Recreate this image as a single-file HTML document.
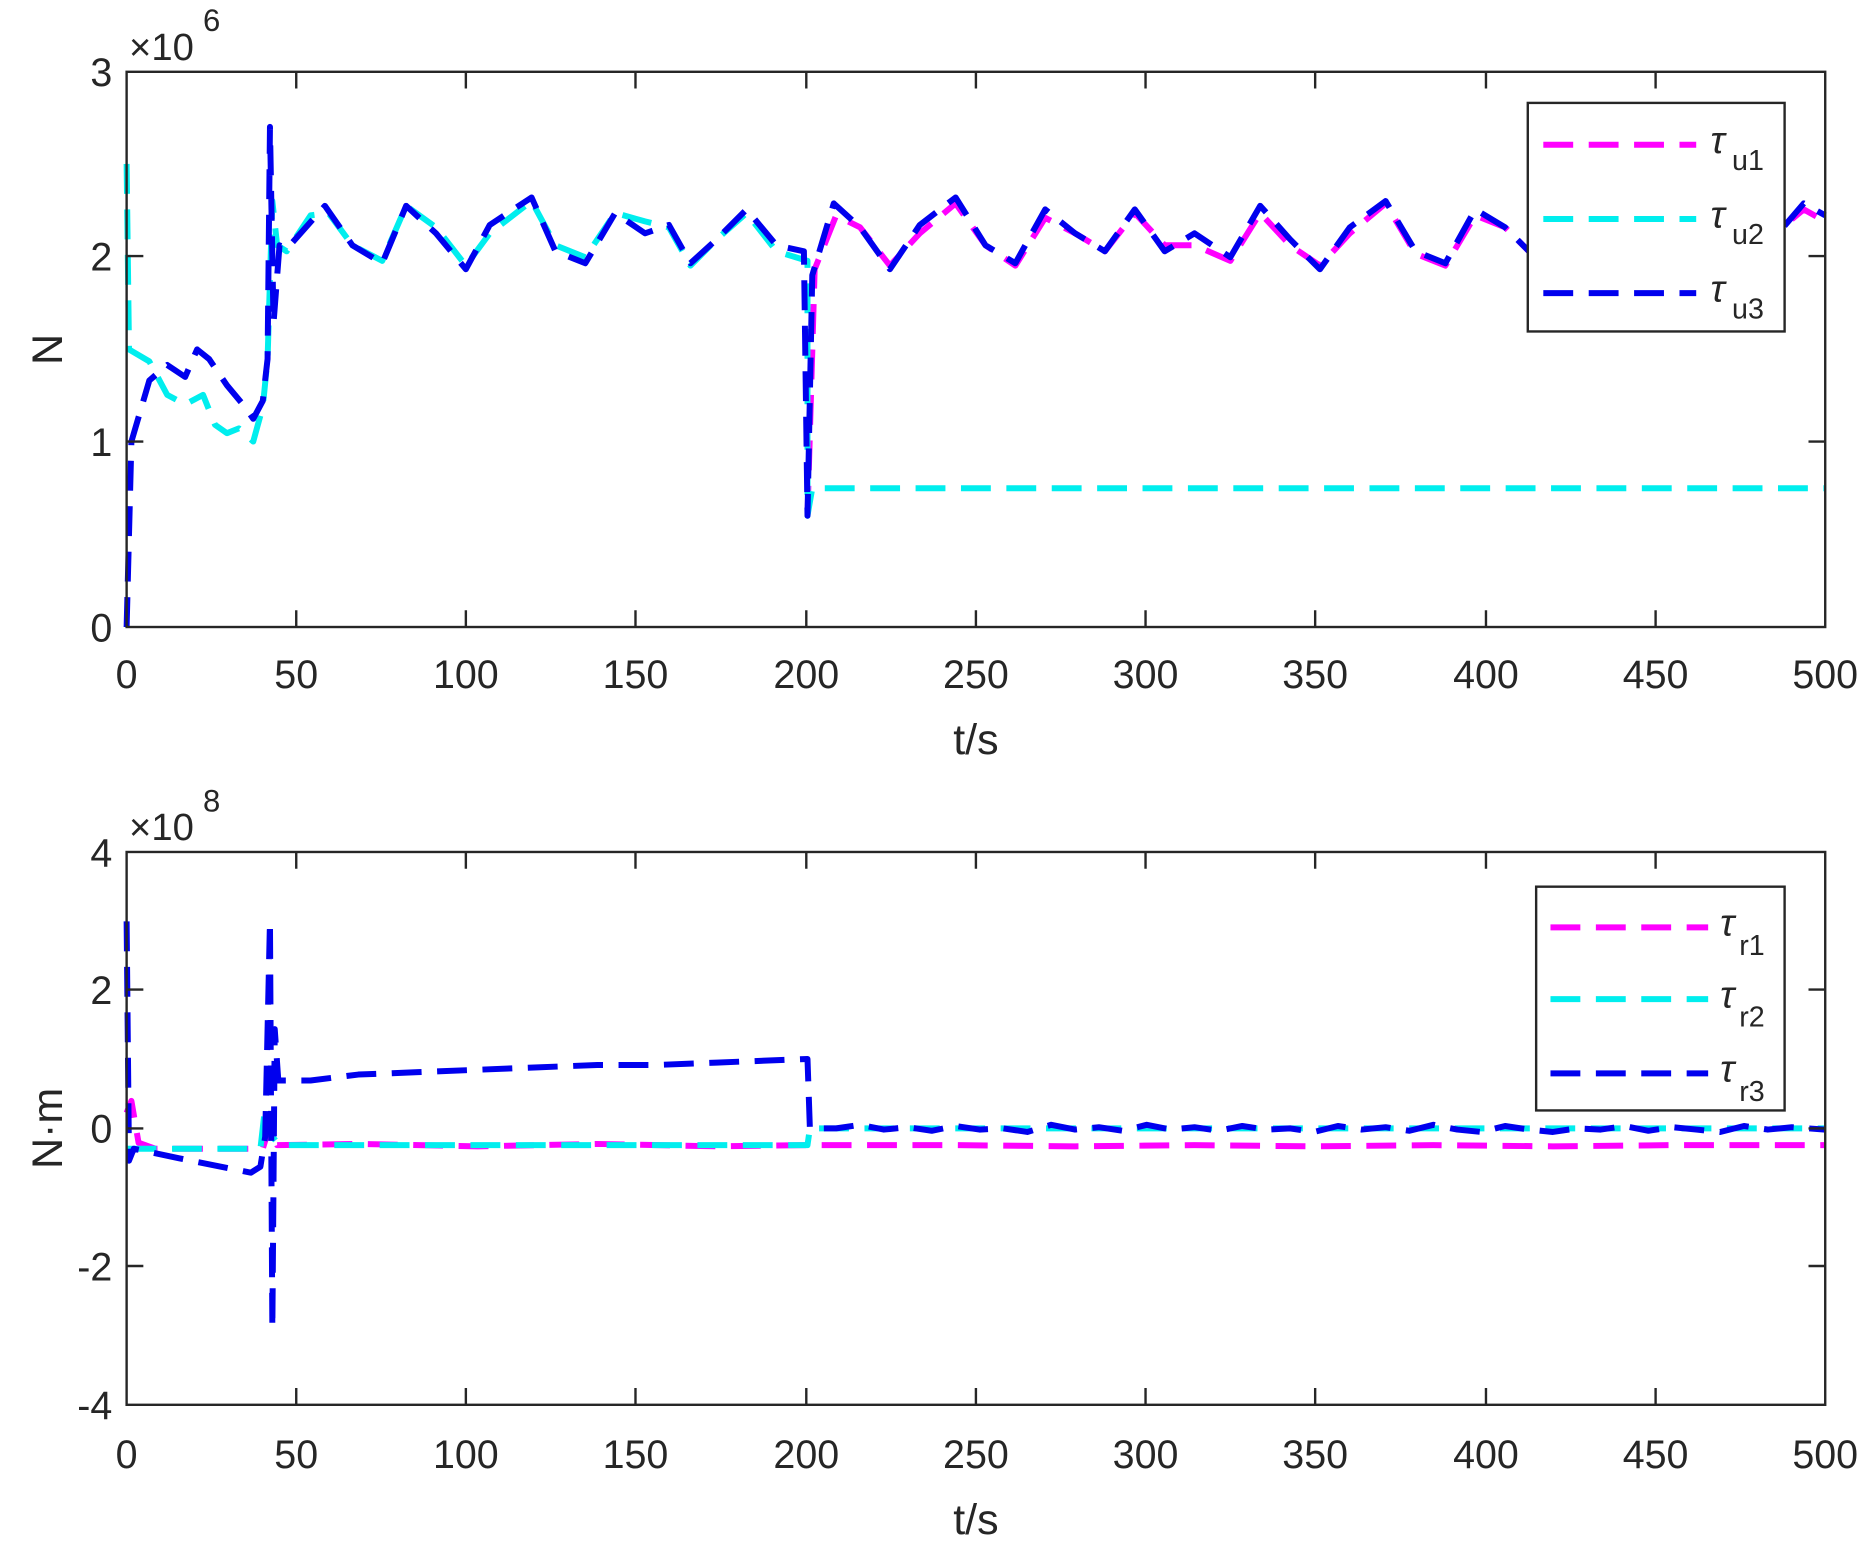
<!DOCTYPE html>
<html><head><meta charset="utf-8"><style>
html,body{margin:0;padding:0;background:#fff;}
svg{display:block;}
text{font-family:"Liberation Sans",sans-serif;fill:#262626;}
</style></head><body>
<svg width="1873" height="1546" viewBox="0 0 1568 1292" preserveAspectRatio="none" xmlns="http://www.w3.org/2000/svg">
<rect width="1568" height="1292" fill="#fff"/>
<g fill="none" stroke-width="5" stroke-dasharray="25,13" stroke-linejoin="round">
<polyline stroke="#ff00ff" points="676,431 682,225 700,180 720,190 745,222 770,195 800,170 825,205 850,222 875,182 900,195 925,210 950,178 975,205 1000,205 1030,218 1055,178 1080,205 1105,222 1130,195 1160,170 1185,212 1210,222 1235,180 1260,190 1285,215 1310,215 1340,200 1365,212 1390,205 1420,180 1450,205 1480,200 1510,175 1528,185"/>
<polyline stroke="#00eeee" points="106,137 108,292 125,302 140,330 155,338 170,330 180,355 190,362 200,358 212,369 220,340 224,300 228,168 232,205 240,210 260,180 275,178 295,205 320,218 340,172 365,190 390,222 410,195 445,168 465,205 490,215 515,178 540,185 560,190 578,222 600,200 625,178 650,210 676,218 676,431 680,408 1528,408"/>
<polyline stroke="#0000ee" points="106,524 110,369 125,318 140,305 155,315 165,292 175,300 190,322 205,340 212,350 220,335 224,300 226,106 229,270 234,205 240,208 272,172 295,205 320,220 340,172 365,195 390,225 410,188 445,165 465,210 490,220 515,178 540,195 560,188 578,220 600,200 625,175 650,205 673,210 676,431 680,230 698,170 720,190 745,225 770,188 800,165 825,205 850,220 875,175 900,195 925,210 950,175 975,210 1000,195 1030,215 1055,172 1080,200 1105,225 1130,190 1160,168 1185,210 1210,220 1235,175 1260,190 1285,215 1310,200 1340,195 1365,210 1390,200 1420,175 1450,200 1480,205 1510,170 1528,180"/>
<polyline stroke="#ff00ff" points="106,930 110,920 116,955 130,960 220,960 226,940 232,957 300,956 400,958 500,956 600,958 676,957 800,957 900,958 1000,957 1100,958 1200,957 1300,958 1400,957 1528,957"/>
<polyline stroke="#00eeee" points="106,960 130,960 218,960 222,925 228,950 234,957 676,957 678,943 1528,943"/>
<polyline stroke="#0000ee" points="106,770 108,970 112,960 150,968 210,980 218,975 222,950 226,770 228,1110 230,860 233,903 260,903 300,898 350,896 400,894 450,892 500,890 550,890 600,888 676,885 678,943 700,943 720,940 740,944 760,942 780,945 800,941 820,944 840,943 860,946 880,940 900,944 920,942 940,945 960,940 980,944 1000,942 1020,945 1040,941 1060,944 1080,943 1100,946 1120,941 1140,944 1160,942 1180,945 1200,940 1220,944 1240,946 1260,941 1280,944 1300,946 1320,943 1340,944 1360,941 1380,945 1400,942 1420,944 1440,946 1460,941 1480,944 1500,942 1528,944"/>
</g>
<g fill="none" stroke="#262626" stroke-width="2">
<rect x="106" y="60" width="1422" height="464"/>
<rect x="106" y="712" width="1422" height="462"/>
</g>
<g stroke="#262626" stroke-width="2">
<path d="M248,524v-14M390,524v-14M532,524v-14M675,524v-14M817,524v-14M959,524v-14M1101,524v-14M1244,524v-14M1386,524v-14M248,60v14M390,60v14M532,60v14M675,60v14M817,60v14M959,60v14M1101,60v14M1244,60v14M1386,60v14M106,369h14M106,214h14M1528,369h-14M1528,214h-14"/>
<path d="M248,1174v-14M390,1174v-14M532,1174v-14M675,1174v-14M817,1174v-14M959,1174v-14M1101,1174v-14M1244,1174v-14M1386,1174v-14M248,712v14M390,712v14M532,712v14M675,712v14M817,712v14M959,712v14M1101,712v14M1244,712v14M1386,712v14M106,827h14M106,943h14M106,1058h14M1528,827h-14M1528,943h-14M1528,1058h-14"/>
</g>
<g font-size="33" text-anchor="middle">
<text x="106" y="575">0</text><text x="248" y="575">50</text><text x="390" y="575">100</text><text x="532" y="575">150</text><text x="675" y="575">200</text><text x="817" y="575">250</text><text x="959" y="575">300</text><text x="1101" y="575">350</text><text x="1244" y="575">400</text><text x="1386" y="575">450</text><text x="1528" y="575">500</text>
<text x="106" y="1227">0</text><text x="248" y="1227">50</text><text x="390" y="1227">100</text><text x="532" y="1227">150</text><text x="675" y="1227">200</text><text x="817" y="1227">250</text><text x="959" y="1227">300</text><text x="1101" y="1227">350</text><text x="1244" y="1227">400</text><text x="1386" y="1227">450</text><text x="1528" y="1227">500</text>
<text x="817" y="630" font-size="36">t/s</text>
<text x="817" y="1282" font-size="36">t/s</text>
</g>
<g font-size="33" text-anchor="end">
<text x="94" y="536">0</text><text x="94" y="381">1</text><text x="94" y="226">2</text><text x="94" y="72">3</text>
<text x="94" y="724">4</text><text x="94" y="839">2</text><text x="94" y="955">0</text><text x="94" y="1070">-2</text><text x="94" y="1186">-4</text>
</g>
<text x="108" y="50" font-size="32">×10</text><text x="170" y="26" font-size="26">6</text>
<text x="108" y="702" font-size="32">×10</text><text x="170" y="678" font-size="26">8</text>
<text transform="translate(52,292) rotate(-90)" font-size="36" text-anchor="middle">N</text>
<text transform="translate(52,943) rotate(-90)" font-size="36" text-anchor="middle">N·m</text>
<rect x="1279" y="86" width="215" height="191" fill="#fff" stroke="#262626" stroke-width="2"/>
<g stroke-width="5" stroke-dasharray="25,13">
<line x1="1292" y1="121" x2="1420" y2="121" stroke="#ff00ff"/>
<line x1="1292" y1="183" x2="1420" y2="183" stroke="#00eeee"/>
<line x1="1292" y1="245" x2="1420" y2="245" stroke="#0000ee"/>
</g>
<g font-size="32"><text x="1432" y="128" font-family="Liberation Serif" font-style="italic">τ</text><text x="1450" y="142" font-size="24">u1</text>
<text x="1432" y="190" font-family="Liberation Serif" font-style="italic">τ</text><text x="1450" y="204" font-size="24">u2</text>
<text x="1432" y="252" font-family="Liberation Serif" font-style="italic">τ</text><text x="1450" y="266" font-size="24">u3</text></g>
<rect x="1286" y="741" width="208" height="187" fill="#fff" stroke="#262626" stroke-width="2"/>
<g stroke-width="5" stroke-dasharray="25,13">
<line x1="1298" y1="775" x2="1430" y2="775" stroke="#ff00ff"/>
<line x1="1298" y1="835" x2="1430" y2="835" stroke="#00eeee"/>
<line x1="1298" y1="897" x2="1430" y2="897" stroke="#0000ee"/>
</g>
<g font-size="32"><text x="1440" y="782" font-family="Liberation Serif" font-style="italic">τ</text><text x="1456" y="798" font-size="24">r1</text>
<text x="1440" y="842" font-family="Liberation Serif" font-style="italic">τ</text><text x="1456" y="858" font-size="24">r2</text>
<text x="1440" y="904" font-family="Liberation Serif" font-style="italic">τ</text><text x="1456" y="920" font-size="24">r3</text></g>
</svg>
</body></html>
